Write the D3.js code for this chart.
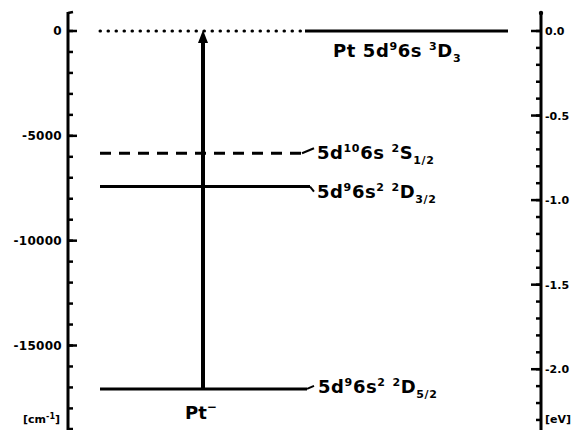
<!DOCTYPE html>
<meta charset="utf-8">
<script src="https://d3js.org/d3.v7.min.js"></script>
<style>
  body { margin: 0; background: #fff; }
  text { font-family: "DejaVu Sans", sans-serif; font-weight: bold; fill: #000; }
</style>
<div id="my_dataviz"></div>
<script>
    // energy levels in cm^-1 (relative to Pt 5d9 6s 3D3)
    var levelNames = ["Pt 5d96s 3D3", "5d106s 2S1/2", "5d96s2 2D3/2", "5d96s2 2D5/2"];
    var levelValues = [0, -5830, -7420, -17070];
    // label parts: [text, "n" normal | "sup" | "sub"]
    var levelParts = [
      [["Pt 5d","n"],["9","sup"],["6s ","n"],["3","sup"],["D","n"],["3","sub"]],
      [["5d","n"],["10","sup"],["6s ","n"],["2","sup"],["S","n"],["1/2","sub"]],
      [["5d","n"],["9","sup"],["6s","n"],["2","sup"],[" ","n"],["2","sup"],["D","n"],["3/2","sub"]],
      [["5d","n"],["9","sup"],["6s","n"],["2","sup"],[" ","n"],["2","sup"],["D","n"],["5/2","sub"]]
    ];
    var cmTicks = [0, -5000, -10000, -15000];
    var cmTickLabels = ["0", "-5000", "-10000", "-15000"];
    var evTicks = [0, -0.5, -1.0, -1.5, -2.0];
    var evTickLabels = ["0.0", "-0.5", "-1.0", "-1.5", "-2.0"];
    var cmPerEv = 8065.5;

    var width = 580, height = 430;
    var svg = d3.select("#my_dataviz")
      .append("svg")
        .attr("width", width)
        .attr("height", height);

    // vertical scale: cm^-1 and eV share the same pixels
    var y = d3.scaleLinear().domain([906, -19030]).range([12, 430]);
    var yEv = d3.scaleLinear().domain([906 / cmPerEv, -19030 / cmPerEv]).range([12, 430]);

    var leftX = 68, rightX = 541;

    // left axis
    var leftAxis = svg.append("g").attr("transform", "translate(" + leftX + ",0)");
    leftAxis.append("line").attr("y1", 12).attr("y2", 430)
        .attr("stroke", "#000").attr("stroke-width", 3);
    leftAxis.append("path").attr("d", "M0,13 L5,12").attr("stroke", "#000").attr("stroke-width", 2.5);
    leftAxis.append("path").attr("d", "M0,429 L5,429").attr("stroke", "#000").attr("stroke-width", 2.5);
    leftAxis.selectAll(".minor")
      .data(d3.range(0, -19001, -1000))
      .enter().append("line")
        .attr("x1", 0).attr("x2", 5)
        .attr("y1", function(d){ return y(d); })
        .attr("y2", function(d){ return y(d); })
        .attr("stroke", "#000").attr("stroke-width", 2.5);
    leftAxis.selectAll(".major")
      .data(cmTicks)
      .enter().append("line")
        .attr("x1", 0).attr("x2", 9)
        .attr("y1", function(d){ return y(d); })
        .attr("y2", function(d){ return y(d); })
        .attr("stroke", "#000").attr("stroke-width", 2.5);
    leftAxis.selectAll(".lbl")
      .data(cmTicks)
      .enter().append("text")
        .attr("x", -6)
        .attr("y", function(d){ return y(d) + 4; })
        .attr("text-anchor", "end")
        .style("font-size", "12px")
        .style("letter-spacing", "0.3px")
        .text(function(d, i){ return cmTickLabels[i]; });
    var cmUnit = leftAxis.append("text")
        .attr("x", -8).attr("y", 423)
        .attr("text-anchor", "end")
        .style("font-size", "11px");
    cmUnit.append("tspan").text("[cm");
    cmUnit.append("tspan").attr("dy", -4).style("font-size", "8px").text("-1");
    cmUnit.append("tspan").attr("dy", 4).text("]");

    // right axis (eV)
    var rightAxis = svg.append("g").attr("transform", "translate(" + rightX + ",0)");
    rightAxis.append("line").attr("y1", 12).attr("y2", 430)
        .attr("stroke", "#000").attr("stroke-width", 3);
    rightAxis.append("circle").attr("cy", 13).attr("r", 2.2).attr("fill", "#000");
    rightAxis.selectAll(".minor")
      .data(d3.range(0, -2.31, -0.1))
      .enter().append("line")
        .attr("x1", 0).attr("x2", -5)
        .attr("y1", function(d){ return yEv(d); })
        .attr("y2", function(d){ return yEv(d); })
        .attr("stroke", "#000").attr("stroke-width", 2.5);
    rightAxis.selectAll(".major")
      .data(evTicks)
      .enter().append("line")
        .attr("x1", 0).attr("x2", -10)
        .attr("y1", function(d){ return yEv(d); })
        .attr("y2", function(d){ return yEv(d); })
        .attr("stroke", "#000").attr("stroke-width", 2.5);
    rightAxis.selectAll(".lbl")
      .data(evTicks)
      .enter().append("text")
        .attr("x", 4)
        .attr("y", function(d){ return yEv(d) + 4; })
        .style("font-size", "11px")
        .text(function(d, i){ return evTickLabels[i]; });
    rightAxis.append("text")
        .attr("x", 4).attr("y", 423)
        .style("font-size", "11px")
        .text("[eV]");

    // level lines
    var lineStart = 100;
    var lineEnds = [305, 302, 310, 307];

    // dotted part of the neutral ground level, plus solid part on the right
    svg.append("line")
        .attr("x1", lineStart).attr("x2", lineEnds[0])
        .attr("y1", y(levelValues[0])).attr("y2", y(levelValues[0]))
        .attr("stroke", "#000").attr("stroke-width", 3)
        .attr("stroke-linecap", "round")
        .attr("stroke-dasharray", "0.5,7.5");
    svg.append("line")
        .attr("x1", lineEnds[0]).attr("x2", 508)
        .attr("y1", y(levelValues[0])).attr("y2", y(levelValues[0]))
        .attr("stroke", "#000").attr("stroke-width", 3);

    // anion / excited levels with small connector to label
    var connectorDy = [0, -5, 5, -3];
    levelValues.forEach(function(v, i) {
      if (i === 0) return;
      var yy = y(v);
      svg.append("line")
          .attr("x1", lineStart).attr("x2", lineEnds[i])
          .attr("y1", yy).attr("y2", yy)
          .attr("stroke", "#000").attr("stroke-width", 3)
          .attr("stroke-dasharray", i === 1 ? "11,8" : null);
      svg.append("line")
          .attr("x1", lineEnds[i]).attr("x2", 314)
          .attr("y1", yy).attr("y2", yy + connectorDy[i])
          .attr("stroke", "#000").attr("stroke-width", 2);
    });

    // labels
    var labelPos = [[333, y(levelValues[0]) + 26], [317, y(levelValues[1]) + 6],
                    [317, y(levelValues[2]) + 11], [318, y(levelValues[3]) + 4]];
    levelParts.forEach(function(parts, i) {
      var t = svg.append("text")
          .attr("x", labelPos[i][0]).attr("y", labelPos[i][1])
          .style("font-size", "18px")
          .style("letter-spacing", "0.6px");
      var shift = 0;
      parts.forEach(function(p) {
        var target = p[1] === "sup" ? -7 : (p[1] === "sub" ? 5 : 0);
        t.append("tspan")
            .attr("dy", target - shift)
            .style("font-size", p[1] === "n" ? "18px" : "11px")
            .text(p[0]);
        shift = target;
      });
    });

    // detachment arrow
    var arrowX = 203;
    svg.append("line")
        .attr("x1", arrowX).attr("x2", arrowX)
        .attr("y1", y(levelValues[3])).attr("y2", y(levelValues[0]) + 10)
        .attr("stroke", "#000").attr("stroke-width", 4);
    svg.append("path")
        .attr("d", "M" + arrowX + "," + (y(levelValues[0]) - 1) +
                   " L" + (arrowX + 5) + "," + (y(levelValues[0]) + 12) +
                   " L" + (arrowX - 5) + "," + (y(levelValues[0]) + 12) + " Z")
        .attr("fill", "#000");

    // anion label
    var pt = svg.append("text")
        .attr("x", 185).attr("y", 419)
        .style("font-size", "18px");
    pt.append("tspan").text("Pt");
    pt.append("tspan").attr("dy", -8).style("font-size", "12px").text("\u2212");
</script>
